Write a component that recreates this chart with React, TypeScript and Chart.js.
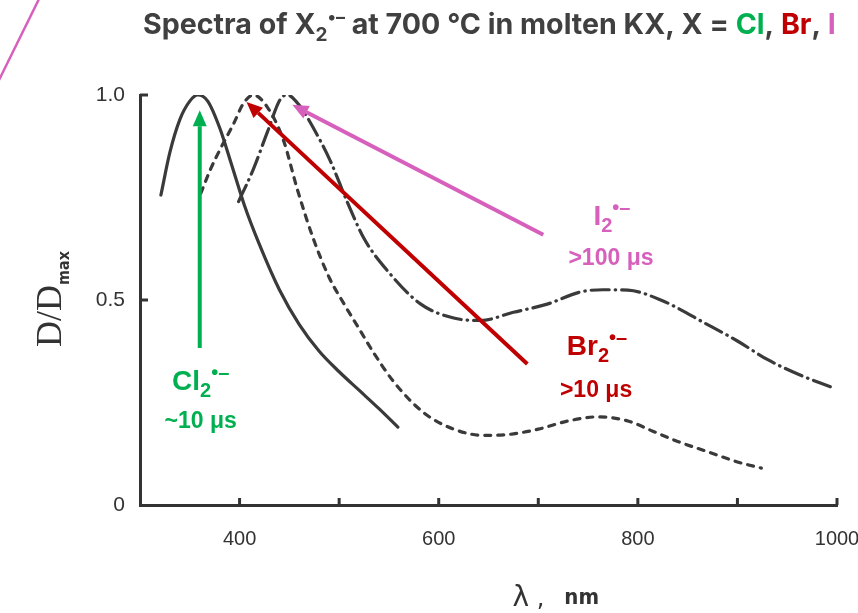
import React, { useEffect, useRef } from "react";
import { Chart, registerables } from "chart.js";

Chart.register(...registerables);

// ---- data (wavelength in nm, D/Dmax) ----
const clWavelengths = [321, 330, 340, 350, 358, 368, 380, 392, 405, 420, 440, 460, 480, 500, 520, 540, 559];
const clValues = [0.756, 0.86, 0.94, 0.985, 1.0, 0.985, 0.92, 0.83, 0.73, 0.635, 0.525, 0.44, 0.375, 0.325, 0.28, 0.235, 0.19];

const brWavelengths = [361, 371, 381, 394, 404, 414, 428, 444, 458, 474, 490, 505, 520, 535, 555, 585, 615, 645, 670, 700, 730, 760, 790, 815, 840, 870, 900, 924];
const brValues = [0.76, 0.82, 0.87, 0.93, 0.98, 1.0, 0.97, 0.89, 0.77, 0.65, 0.555, 0.49, 0.43, 0.37, 0.3, 0.225, 0.185, 0.17, 0.172, 0.185, 0.205, 0.215, 0.205, 0.18, 0.155, 0.13, 0.105, 0.09];

const iWavelengths = [399, 414, 428, 441, 448, 460, 474, 491, 508, 525, 549, 582, 615, 642, 675, 709, 743, 765, 790, 823, 870, 900, 930, 960, 997];
const iValues = [0.74, 0.82, 0.91, 0.99, 1.0, 0.975, 0.92, 0.84, 0.74, 0.65, 0.57, 0.49, 0.456, 0.45, 0.47, 0.49, 0.52, 0.525, 0.524, 0.5, 0.44, 0.4, 0.355, 0.32, 0.285];

const xTickValues = [400, 600, 800, 1000];
const xTickLabels = ["400", "600", "800", "1000"];
const xMarkValues = [400, 500, 600, 700, 800, 900, 1000];
const yTickValues = [0, 0.5, 1.0];
const yTickLabels = ["0", "0.5", "1.0"];
const yMarkValues = [0.5, 1.0];

// arrows: [tail, head] in (nm, D/Dmax)
const clArrow = [[360, 0.383], [360, 0.963]];
const brArrow = [[689, 0.344], [407, 0.983]];
const iArrow = [[705, 0.659], [453, 0.976]];

// label anchors (centre x, baseline) in (nm, D/Dmax)
const clNameAt = [361, 0.28];
const clTimeAt = [361, 0.188];
const brNameAt = [759, 0.366];
const brTimeAt = [758, 0.263];
const iNameAt = [774, 0.683];
const iTimeAt = [773, 0.585];

const clTime = "~10 μs";
const brTime = ">10 μs";
const iTime = ">100 μs";

const GREEN = "#00B050";
const RED = "#C00000";
const PINK = "#D660BC";
const GRAY = "#404040";
const AXIS = "#333333";
const CURVE = "#3a3a3a";

type Run = { text: string; font: string; color: string; dy?: number; gap?: number };

function drawRuns(ctx: CanvasRenderingContext2D, runs: Run[], x: number, y: number, align: "left" | "center") {
  ctx.textAlign = "left";
  ctx.textBaseline = "alphabetic";
  let total = 0;
  const widths = runs.map((r) => {
    ctx.font = r.font;
    const w = ctx.measureText(r.text).width;
    total += w + (r.gap || 0);
    return w;
  });
  let cx = align === "center" ? x - total / 2 : x;
  runs.forEach((r, i) => {
    ctx.font = r.font;
    ctx.fillStyle = r.color;
    ctx.fillText(r.text, cx, y + (r.dy || 0));
    cx += widths[i] + (r.gap || 0);
  });
  return total;
}

function drawArrow(ctx: CanvasRenderingContext2D, x1: number, y1: number, x2: number, y2: number, color: string) {
  const headLen = 16;
  const headHalf = 7;
  const ang = Math.atan2(y2 - y1, x2 - x1);
  const bx = x2 - headLen * Math.cos(ang);
  const by = y2 - headLen * Math.sin(ang);
  ctx.save();
  ctx.strokeStyle = color;
  ctx.fillStyle = color;
  ctx.lineWidth = 4;
  ctx.lineCap = "butt";
  ctx.beginPath();
  ctx.moveTo(x1, y1);
  ctx.lineTo(bx, by);
  ctx.stroke();
  ctx.beginPath();
  ctx.moveTo(x2, y2);
  ctx.lineTo(bx + headHalf * Math.sin(ang), by - headHalf * Math.cos(ang));
  ctx.lineTo(bx - headHalf * Math.sin(ang), by + headHalf * Math.cos(ang));
  ctx.closePath();
  ctx.fill();
  ctx.restore();
}

const LABEL_FONT = "'Liberation Sans', Arial, sans-serif";

function speciesRuns(sym: string, color: string): Run[] {
  return [
    { text: sym, font: `bold 28px ${LABEL_FONT}`, color },
    { text: "2", font: `bold 20px ${LABEL_FONT}`, color, dy: 7 },
    { text: "•–", font: `bold 20px ${LABEL_FONT}`, color, dy: -11 },
  ];
}

const overlayPlugin = {
  id: "overlay",
  afterDatasetsDraw(chart: any) {
    const { ctx, scales, chartArea } = chart;
    const xs = scales.x;
    const ys = scales.y;
    ctx.save();
    // inner tick marks
    ctx.strokeStyle = AXIS;
    ctx.lineWidth = 3;
    xMarkValues.forEach((v) => {
      const px = xs.getPixelForValue(v);
      ctx.beginPath();
      ctx.moveTo(px, chartArea.bottom);
      ctx.lineTo(px, chartArea.bottom - 7);
      ctx.stroke();
    });
    yMarkValues.forEach((v) => {
      const py = ys.getPixelForValue(v);
      ctx.beginPath();
      ctx.moveTo(chartArea.left, py);
      ctx.lineTo(chartArea.left + 8, py);
      ctx.stroke();
    });
    ctx.restore();

    const P = (p: number[]) => [xs.getPixelForValue(p[0]), ys.getPixelForValue(p[1])];
    const arrows: [number[][], string][] = [
      [clArrow, GREEN],
      [brArrow, RED],
      [iArrow, PINK],
    ];
    arrows.forEach(([a, c]) => {
      const [x1, y1] = P(a[0]);
      const [x2, y2] = P(a[1]);
      drawArrow(ctx, x1, y1, x2, y2, c);
    });

    ctx.save();
    const labels: [number[], Run[]][] = [
      [clNameAt, speciesRuns("Cl", GREEN)],
      [clTimeAt, [{ text: clTime, font: `bold 23px ${LABEL_FONT}`, color: GREEN }]],
      [brNameAt, speciesRuns("Br", RED)],
      [brTimeAt, [{ text: brTime, font: `bold 23px ${LABEL_FONT}`, color: RED }]],
      [iNameAt, speciesRuns("I", PINK)],
      [iTimeAt, [{ text: iTime, font: `bold 23px ${LABEL_FONT}`, color: PINK }]],
    ];
    labels.forEach(([at, runs]) => {
      const [px, py] = P(at);
      drawRuns(ctx, runs, px, py, "center");
    });
    ctx.restore();
  },
  afterDraw(chart: any) {
    const { ctx, chartArea } = chart;
    ctx.save();
    // decorative corner stroke
    ctx.strokeStyle = PINK;
    ctx.lineWidth = 2.5;
    ctx.beginPath();
    ctx.moveTo(-2, 82);
    ctx.lineTo(39, -1);
    ctx.stroke();

    // title
    const TF = "'Inter', 'Roboto', sans-serif";
    const S = 28.6;
    drawRuns(
      ctx,
      [
        { text: "Spectra of X", font: `bold ${S}px ${TF}`, color: GRAY },
        { text: "2", font: `bold 19px ${TF}`, color: GRAY, dy: 7 },
        { text: "•–", font: `bold 18px ${TF}`, color: GRAY, dy: -11 },
        { text: " at 700 °C in molten KX, X = ", font: `bold ${S}px ${TF}`, color: GRAY },
        { text: "Cl", font: `bold ${S}px ${TF}`, color: GREEN },
        { text: ", ", font: `bold ${S}px ${TF}`, color: GRAY },
        { text: "Br", font: `bold ${S}px ${TF}`, color: RED },
        { text: ", ", font: `bold ${S}px ${TF}`, color: GRAY },
        { text: "I", font: `bold ${S}px ${TF}`, color: PINK },
      ],
      143,
      34,
      "left"
    );

    // y axis title (rotated)
    ctx.save();
    ctx.translate(61, 299);
    ctx.rotate(-Math.PI / 2);
    drawRuns(
      ctx,
      [
        { text: "D/D", font: "36px 'Liberation Serif', serif", color: AXIS },
        { text: "max", font: "bold 16px 'DejaVu Sans Condensed', sans-serif", color: AXIS, dy: 8 },
      ],
      0,
      0,
      "center"
    );
    ctx.restore();

    // x axis title
    const cx = (chartArea.left + chartArea.right) / 2;
    drawRuns(
      ctx,
      [
        { text: "λ", font: "28px 'DejaVu Sans', sans-serif", color: AXIS },
        { text: " ,", font: "24px 'DejaVu Sans', sans-serif", color: AXIS, gap: 20 },
        { text: "nm", font: "bold 22px 'DejaVu Sans Condensed', sans-serif", color: AXIS, dy: -2 },
      ],
      cx + 24,
      606,
      "left"
    );
    ctx.restore();
  },
};

const App: React.FC = () => {
  const ref = useRef<HTMLCanvasElement | null>(null);
  useEffect(() => {
    if (!ref.current) return;
    const toPts = (xs: number[], ys: number[]) => xs.map((x, i) => ({ x, y: ys[i] }));
    const common = {
      borderColor: CURVE,
      borderWidth: 3.2,
      pointRadius: 0,
      pointHoverRadius: 0,
      fill: false,
      tension: 0.4,
      cubicInterpolationMode: "monotone" as const,
      borderCapStyle: "round" as const,
      borderJoinStyle: "round" as const,
    };
    const chart = new Chart(ref.current, {
      type: "line",
      data: {
        datasets: [
          { label: "Cl2•–", data: toPts(clWavelengths, clValues), ...common },
          { label: "Br2•–", data: toPts(brWavelengths, brValues), ...common, borderDash: [6, 7] },
          { label: "I2•–", data: toPts(iWavelengths, iValues), ...common, borderDash: [18, 6, 0.5, 6] },
        ],
      },
      options: {
        animation: false,
        responsive: false,
        maintainAspectRatio: false,
        events: [],
        layout: { padding: { left: 0, top: 95, right: 21, bottom: 0 } },
        plugins: { legend: { display: false }, tooltip: { enabled: false }, title: { display: false } },
        scales: {
          x: {
            type: "linear",
            min: 300,
            max: 1000,
            afterFit: (s: any) => {
              s.height = 108;
              s.paddingLeft = 0;
              s.paddingRight = 0;
            },
            afterBuildTicks: (s: any) => {
              s.ticks = xTickValues.map((v) => ({ value: v }));
            },
            grid: { drawOnChartArea: false, drawTicks: false, color: "rgba(0,0,0,0)" },
            border: { display: true, color: AXIS, width: 3 },
            ticks: {
              autoSkip: false,
              maxRotation: 0,
              padding: 22,
              color: AXIS,
              font: { family: "'Liberation Sans', sans-serif", size: 20 },
              callback: (v: any) => xTickLabels[xTickValues.indexOf(Number(v))] ?? "",
            },
          },
          y: {
            type: "linear",
            min: 0,
            max: 1,
            afterFit: (s: any) => {
              s.width = 140;
              s.paddingTop = 0;
              s.paddingBottom = 0;
            },
            afterBuildTicks: (s: any) => {
              s.ticks = yTickValues.map((v) => ({ value: v }));
            },
            grid: { drawOnChartArea: false, drawTicks: false, color: "rgba(0,0,0,0)" },
            border: { display: true, color: AXIS, width: 3 },
            ticks: {
              autoSkip: false,
              padding: 15,
              color: AXIS,
              font: { family: "'Liberation Sans', sans-serif", size: 21 },
              callback: (v: any) => yTickLabels[yTickValues.indexOf(Number(v))] ?? "",
            },
          },
        },
      },
      plugins: [overlayPlugin],
    });
    return () => chart.destroy();
  }, []);

  return (
    <div style={{ position: "absolute", left: 0, top: 0, width: 858, height: 613, background: "#ffffff" }}>
      <canvas ref={ref} width={858} height={613} style={{ display: "block" }} />
    </div>
  );
};

export default App;
